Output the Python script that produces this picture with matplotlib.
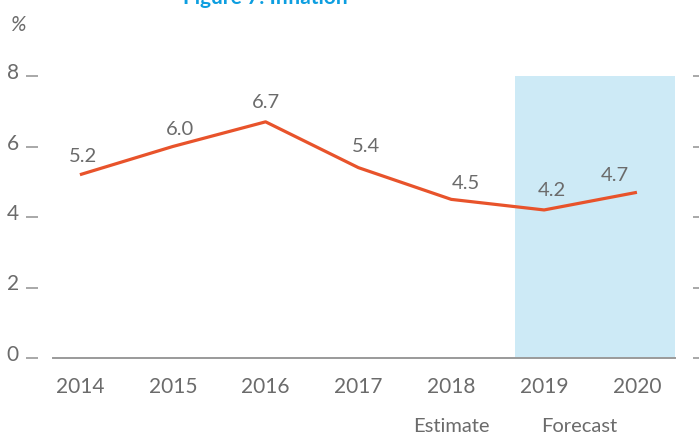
import matplotlib
matplotlib.use("Agg")
import matplotlib.pyplot as plt
import matplotlib.transforms as mtransforms

years = [2014, 2015, 2016, 2017, 2018, 2019, 2020]
inflation = [5.2, 6.0, 6.7, 5.4, 4.5, 4.2, 4.7]
y_ticks = [0, 2, 4, 6, 8]
notes = ["Estimate", "Forecast"]
note_x = [2018, 2019.38]
forecast_span = [2018.69, 2020.41]

# label offsets in pixels (dx, dy) of text centre from point
label_offsets = [(3, 18), (7, 17), (0, 19), (8, 21), (15, 16), (8, 19), (-22, 17)]

plt.rcParams['font.family'] = ['Lato', 'DejaVu Sans']
TXT = '#6b6b6b'
W, H = 699, 437
fig = plt.figure(figsize=(W / 100, H / 100), dpi=100)
ax = fig.add_axes([53 / W, (H - 358) / H, (675 - 53) / W, (358 - 76) / H])

ax.axvspan(forecast_span[0], forecast_span[1], ymin=0, ymax=1, color='#cdeaf6', lw=0, zorder=0)
ax.plot(years, inflation, color='#e8532b', lw=2.3, zorder=3, solid_capstyle='butt')

for x, v, (dx, dy) in zip(years, inflation, label_offsets):
    ax.annotate(f"{v:.1f}", (x, v), xytext=(dx * 0.72, dy * 0.72), textcoords='offset points',
                ha='center', va='center', fontsize=14.5, color=TXT)

ax.set_xlim(2013.71, 2020.41)
ax.set_ylim(0, 8)
ax.set_yticks(y_ticks)
ax.set_xticks(years)
ax.set_xticklabels([str(y) for y in years])

for s in ['top', 'left', 'right']:
    ax.spines[s].set_visible(False)
ax.spines['bottom'].set_color('#9a9a9a')
ax.spines['bottom'].set_linewidth(1.4)
ax.spines['left'].set_position(('outward', 11))
ax.spines['right'].set_position(('outward', 13))

ax.tick_params(axis='y', which='both', left=True, right=True, labelleft=True, labelright=False,
               direction='out', length=8.6, width=1.2, color='#9a9a9a', pad=5,
               labelsize=15, labelcolor=TXT)
ax.tick_params(axis='x', length=0, pad=14, labelsize=15, labelcolor=TXT)

off = mtransforms.ScaledTranslation(0, 5 / 100, fig.dpi_scale_trans)
for lbl in ax.get_yticklabels():
    lbl.set_transform(lbl.get_transform() + off)

trans = mtransforms.blended_transform_factory(ax.transData, fig.transFigure)
for nx, n in zip(note_x, notes):
    ax.text(nx, 1 - 427 / H, n, transform=trans, ha='center', va='center', fontsize=14.5, color=TXT)

fig.text(18 / W, 1 - 25 / H, '%', ha='center', va='center', fontsize=15, color=TXT, style='italic')
fig.text(265 / W, 1 - 4 / H, 'Figure 7: Inflation', ha='center', va='baseline', fontsize=15,
         color='#0d9ee0', fontweight='bold')

fig.savefig('out.png', dpi=100)
